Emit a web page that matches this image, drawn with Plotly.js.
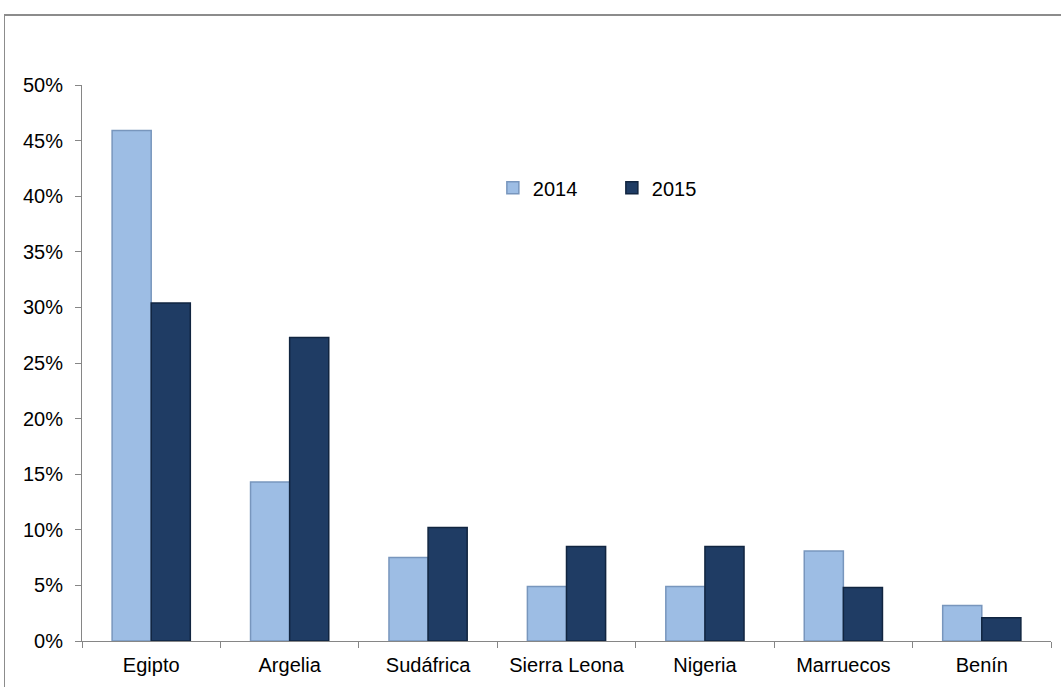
<!DOCTYPE html>
<html>
<head>
<meta charset="utf-8">
<script src="https://cdn.plot.ly/plotly-3.0.1.min.js"></script>
<style>
html,body{margin:0;padding:0;background:#fff;overflow:hidden;}
#wrap{position:relative;width:1061px;height:687px;overflow:hidden;}
#chart{position:absolute;left:0;top:0;width:1061px;height:687px;}
#frame{position:absolute;left:4px;top:14px;width:1300px;height:1000px;border-top:2px solid #8c8c8c;border-left:1.5px solid #8c8c8c;border-right:none;border-bottom:none;box-sizing:content-box;pointer-events:none;}
</style>
</head>
<body>
<div id="wrap">
<div id="chart"></div>
<div id="frame"></div>
</div>
<script>
const categories = ["Egipto", "Argelia", "Sudáfrica", "Sierra Leona", "Nigeria", "Marruecos", "Benín"];
const values2014 = [0.459, 0.143, 0.075, 0.049, 0.049, 0.081, 0.032];
const values2015 = [0.304, 0.273, 0.102, 0.085, 0.085, 0.048, 0.021];
const seriesNames = ["2014", "2015"];
const yTickVals = [0, 0.05, 0.10, 0.15, 0.20, 0.25, 0.30, 0.35, 0.40, 0.45, 0.50];

const traces = [
  {
    type: "bar", name: seriesNames[0], x: categories, y: values2014,
    marker: {color: "#9dbde4", line: {color: "#7896bd", width: 1.5}},
    hoverinfo: "x+y"
  },
  {
    type: "bar", name: seriesNames[1], x: categories, y: values2015,
    marker: {color: "#1f3c64", line: {color: "#112540", width: 1.5}},
    hoverinfo: "x+y"
  }
];

const layout = {
  width: 1061, height: 687,
  margin: {l: 82, r: 10, t: 85, b: 46},
  paper_bgcolor: "rgba(0,0,0,0)", plot_bgcolor: "rgba(0,0,0,0)",
  font: {family: "Liberation Sans, Arial, sans-serif", size: 20, color: "#000"},
  barmode: "group",
  bargap: 0.435, bargroupgap: 0,
  showlegend: true,
  legend: {
    orientation: "h", x: 0.424, y: 0.815, xanchor: "left", yanchor: "middle",
    font: {size: 20}, itemwidth: 30, tracegroupgap: 0,
    bgcolor: "rgba(0,0,0,0)", entrywidth: 74
  },
  xaxis: {
    type: "category",
    showline: true, linecolor: "#868686", linewidth: 1,
    ticks: "outside", ticklen: 6, tickcolor: "#868686", tickson: "boundaries",
    showgrid: false, zeroline: false, ticklabelstandoff: 6,
    tickfont: {size: 20}, fixedrange: true
  },
  yaxis: {
    range: [0, 0.5],
    tickvals: yTickVals, tickformat: ".0%",
    showline: true, linecolor: "#868686", linewidth: 1,
    ticks: "outside", ticklen: 6, tickcolor: "#868686",
    showgrid: false, zeroline: false, ticklabelstandoff: 8,
    tickfont: {size: 20}, fixedrange: true
  }
};

Plotly.newPlot("chart", traces, layout, {displayModeBar: false, staticPlot: true});
</script>
</body>
</html>
